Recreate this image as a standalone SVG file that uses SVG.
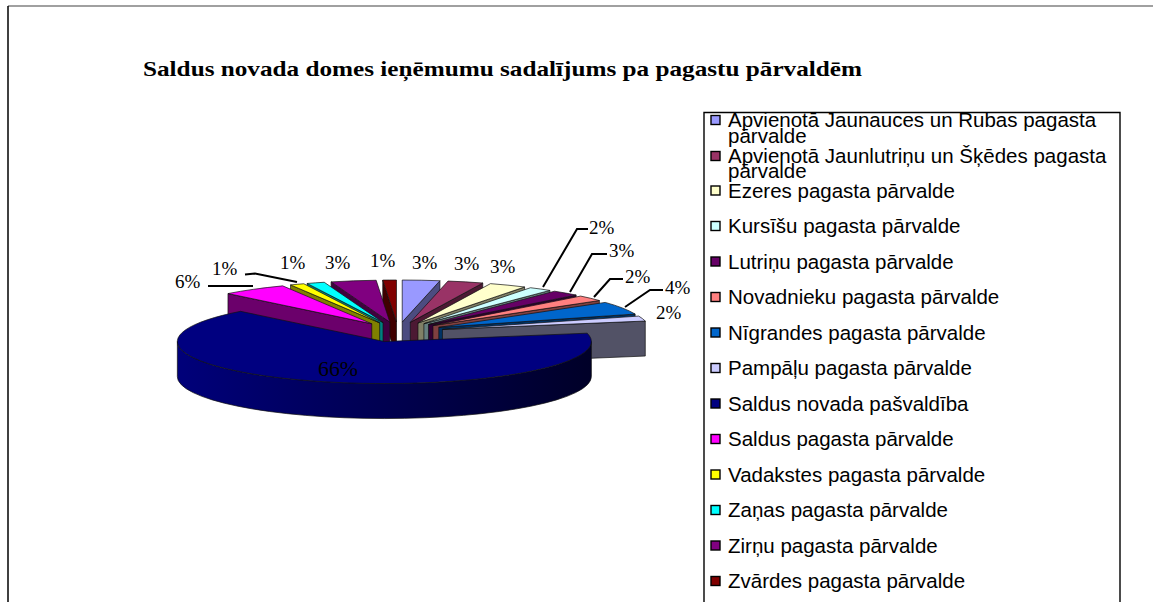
<svg xmlns="http://www.w3.org/2000/svg" width="1153" height="602" viewBox="0 0 1153 602">
<style>
.pt{stroke:#111;stroke-width:0.7;stroke-linejoin:round}
.lbl{font-family:"Liberation Serif","Times New Roman",serif;font-size:19px;fill:#000}
.leg{font-family:"Liberation Sans",Arial,sans-serif;font-size:20.5px;fill:#000}
.sw{stroke:#000;stroke-width:1.4}
.ld{fill:none;stroke:#000;stroke-width:2}
.ttl{font-family:"Liberation Serif","Times New Roman",serif;font-size:21px;font-weight:bold;fill:#000}
</style>
<defs>
<linearGradient id="navyWall" gradientUnits="userSpaceOnUse" x1="177" y1="0" x2="591" y2="0">
<stop offset="0" stop-color="#00007a"/>
<stop offset="1" stop-color="#000028"/>
</linearGradient>
</defs>
<rect width="1153" height="602" fill="#fff"/>
<g id="frame">
<line x1="8" y1="6" x2="1153" y2="6" stroke="#808080" stroke-width="1.5"/>
<line x1="8" y1="6" x2="8" y2="602" stroke="#000" stroke-width="1.5"/>
</g>
<g id="title"><text class="ttl" x="143" y="75.5" textLength="719" lengthAdjust="spacingAndGlyphs">Saldus novada domes ieņēmumu sadalījums pa pagastu pārvaldēm</text></g>
<g id="pie-sides" class="pt">
<path fill="#400000" d="M396.47,322.01 L382.75,280.10 L382.75,315.10 L396.47,357.01 Z"/>
<path fill="#400040" d="M389.89,322.16 L331.10,281.89 L331.10,316.89 L389.89,357.16 Z"/>
<path fill="#008080" d="M383.02,322.54 L307.15,283.46 L307.15,318.46 L383.02,357.54 Z"/>
<path fill="#808000" d="M379.66,322.83 L290.55,284.92 L290.55,319.92 L379.66,357.83 Z"/>
<path fill="#6b006b" d="M371.78,323.78 L227.98,293.57 L227.98,328.57 L371.78,358.78 Z"/>
<path fill="#4c4c80" d="M402.21,322.04 L439.93,280.74 L439.93,315.74 L402.21,357.04 Z"/>
<path fill="#4c1933" d="M410.29,322.36 L482.78,283.02 L482.78,318.02 L410.29,357.36 Z"/>
<path fill="#808066" d="M417.98,322.99 L524.59,286.99 L524.59,321.99 L417.98,357.99 Z"/>
<path fill="#668080" d="M423.89,323.73 L549.91,290.41 L549.91,325.41 L423.89,358.73 Z"/>
<path fill="#330033" d="M428.48,324.51 L576.13,295.07 L576.13,330.07 L428.48,359.51 Z"/>
<path fill="#804040" d="M432.98,325.51 L599.39,300.53 L599.39,335.53 L432.98,360.51 Z"/>
<path fill="#003366" d="M438.80,327.38 L635.10,314.05 L635.10,349.05 L438.80,362.38 Z"/>
<path fill="#525266" d="M442.43,329.41 L645.27,321.04 L645.27,356.04 L442.43,364.41 Z"/>
<path fill="url(#navyWall)" d="M591.36,341.55 A207,42 0 0 1 177.36,341.55 L177.36,376.55 A207,42 0 0 0 591.36,376.55 Z"/>
</g>
<g id="pie-tops" class="pt">
<path id="slice-jaunauces" fill="#9999ff" d="M402.21,322.04 L402.21,280.04 A207,42 0 0 1 439.93,280.74 Z"/>
<path id="slice-jaunlutrinu" fill="#993366" d="M410.29,322.36 L448.01,281.06 A207,42 0 0 1 482.78,283.02 Z"/>
<path id="slice-ezeres" fill="#ffffcc" d="M417.98,322.99 L490.47,283.65 A207,42 0 0 1 524.59,286.99 Z"/>
<path id="slice-kursisu" fill="#ccffff" d="M423.89,323.73 L530.50,287.73 A207,42 0 0 1 549.91,290.41 Z"/>
<path id="slice-lutrinu" fill="#660066" d="M428.48,324.51 L554.50,291.19 A207,42 0 0 1 576.13,295.07 Z"/>
<path id="slice-novadnieku" fill="#ff8080" d="M432.98,325.51 L580.63,296.07 A207,42 0 0 1 599.39,300.53 Z"/>
<path id="slice-nigrandes" fill="#0066cc" d="M438.80,327.38 L605.21,302.40 A207,42 0 0 1 635.10,314.05 Z"/>
<path id="slice-pampalu" fill="#ccccff" d="M442.43,329.41 L638.73,316.08 A207,42 0 0 1 645.27,321.04 Z"/>
<path id="slice-saldus-pagasts" fill="#ff00ff" d="M371.78,323.78 L227.98,293.57 A207,42 0 0 1 282.67,285.87 Z"/>
<path id="slice-vadakstes" fill="#ffff00" d="M379.66,322.83 L290.55,284.92 A207,42 0 0 1 303.79,283.75 Z"/>
<path id="slice-zanas" fill="#00ffff" d="M383.02,322.54 L307.15,283.46 A207,42 0 0 1 324.23,282.27 Z"/>
<path id="slice-zirnu" fill="#800080" d="M389.89,322.16 L331.10,281.89 A207,42 0 0 1 376.17,280.25 Z"/>
<path id="slice-zvardes" fill="#800000" d="M396.47,322.01 L382.75,280.10 A207,42 0 0 1 396.47,280.01 Z"/>
<path id="slice-saldus-novads" fill="#000080" d="M384.36,341.55 L587.20,333.18 A207,42 0 1 1 240.56,311.34 Z"/>
</g>
<g id="leaders">
<polyline class="ld" points="208,286 253,286"/>
<polyline class="ld" points="245,274.5 255,273.5 297,282"/>
<polyline class="ld" points="588,229 577,229 543,287"/>
<polyline class="ld" points="607,254 592,254 570,292"/>
<polyline class="ld" points="623,279 610,279 594,297"/>
<polyline class="ld" points="663,290 650,290 625,307"/>
</g>
<g id="labels">
<text class="lbl" x="175" y="288">6%</text>
<text class="lbl" x="212" y="275">1%</text>
<text class="lbl" x="280" y="269">1%</text>
<text class="lbl" x="325" y="269">3%</text>
<text class="lbl" x="370" y="267">1%</text>
<text class="lbl" x="412" y="269">3%</text>
<text class="lbl" x="454" y="270">3%</text>
<text class="lbl" x="490" y="273">3%</text>
<text class="lbl" x="589" y="234">2%</text>
<text class="lbl" x="609" y="257">3%</text>
<text class="lbl" x="625" y="283">2%</text>
<text class="lbl" x="665" y="294">4%</text>
<text class="lbl" x="656" y="319">2%</text>
<text class="lbl" x="318" y="376" style="font-size:20px" textLength="40" lengthAdjust="spacingAndGlyphs">66%</text>
</g>
<g id="legend">
<path d="M704,602 V112.5 H1120 V602" fill="none" stroke="#000" stroke-width="1.4"/>
<g id="leg-1"><rect class="sw" x="711" y="115.5" width="9" height="9" fill="#9999ff"/><text class="leg" x="728" y="127">Apvienotā Jaunauces un Rubas pagasta</text><text class="leg" x="728" y="143">pārvalde</text></g>
<g id="leg-2"><rect class="sw" x="711" y="151.5" width="9" height="9" fill="#993366"/><text class="leg" x="728" y="163">Apvienotā Jaunlutriņu un Šķēdes pagasta</text><text class="leg" x="728" y="178">pārvalde</text></g>
<g id="leg-3"><rect class="sw" x="711" y="186" width="9" height="9" fill="#ffffcc"/><text class="leg" x="728" y="197.5">Ezeres pagasta pārvalde</text></g>
<g id="leg-4"><rect class="sw" x="711" y="221.5" width="9" height="9" fill="#ccffff"/><text class="leg" x="728" y="233">Kursīšu pagasta pārvalde</text></g>
<g id="leg-5"><rect class="sw" x="711" y="257" width="9" height="9" fill="#660066"/><text class="leg" x="728" y="268.5">Lutriņu pagasta pārvalde</text></g>
<g id="leg-6"><rect class="sw" x="711" y="292.5" width="9" height="9" fill="#ff8080"/><text class="leg" x="728" y="304">Novadnieku pagasta pārvalde</text></g>
<g id="leg-7"><rect class="sw" x="711" y="328" width="9" height="9" fill="#0066cc"/><text class="leg" x="728" y="339.5">Nīgrandes pagasta pārvalde</text></g>
<g id="leg-8"><rect class="sw" x="711" y="363.5" width="9" height="9" fill="#ccccff"/><text class="leg" x="728" y="375">Pampāļu pagasta pārvalde</text></g>
<g id="leg-9"><rect class="sw" x="711" y="399" width="9" height="9" fill="#000080"/><text class="leg" x="728" y="410.5">Saldus novada pašvaldība</text></g>
<g id="leg-10"><rect class="sw" x="711" y="434.5" width="9" height="9" fill="#ff00ff"/><text class="leg" x="728" y="446">Saldus pagasta pārvalde</text></g>
<g id="leg-11"><rect class="sw" x="711" y="470" width="9" height="9" fill="#ffff00"/><text class="leg" x="728" y="481.5">Vadakstes pagasta pārvalde</text></g>
<g id="leg-12"><rect class="sw" x="711" y="505.5" width="9" height="9" fill="#00ffff"/><text class="leg" x="728" y="517">Zaņas pagasta pārvalde</text></g>
<g id="leg-13"><rect class="sw" x="711" y="541" width="9" height="9" fill="#800080"/><text class="leg" x="728" y="552.5">Zirņu pagasta pārvalde</text></g>
<g id="leg-14"><rect class="sw" x="711" y="576.5" width="9" height="9" fill="#800000"/><text class="leg" x="728" y="588">Zvārdes pagasta pārvalde</text></g>
</g>
</svg>
